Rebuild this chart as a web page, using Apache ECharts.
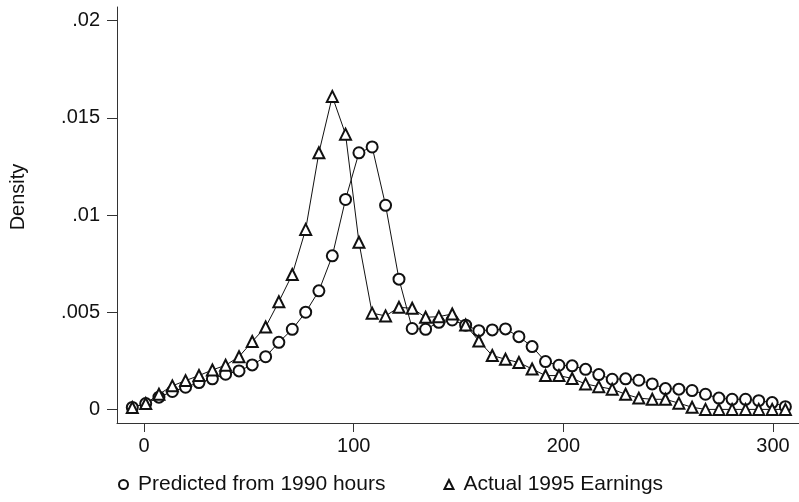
<!DOCTYPE html>
<html>
<head>
<meta charset="utf-8">
<script src="https://cdn.jsdelivr.net/npm/echarts@6/dist/echarts.min.js"></script>
<style>
  html, body { margin: 0; padding: 0; background: #fff; }
  #main { width: 799px; height: 502px; }
</style>
</head>
<body>
<div id="main"></div>
<script>
// x grid of the density estimate (earnings)
var xVals = [-5.6, 0.8, 7.1, 13.5, 19.8, 26.2, 32.6, 38.9, 45.3, 51.6,
             58.0, 64.3, 70.7, 77.1, 83.4, 89.8, 96.1, 102.5, 108.8, 115.2,
             121.6, 127.9, 134.3, 140.6, 147.0, 153.4, 159.7, 166.1, 172.4, 178.8,
             185.1, 191.5, 197.9, 204.2, 210.6, 216.9, 223.3, 229.7, 236.0, 242.4,
             248.7, 255.1, 261.4, 267.8, 274.2, 280.5, 286.9, 293.2, 299.6, 305.9];

// 预测值 (circles)
var predicted = [0.0001, 0.0003, 0.00063, 0.00092, 0.00114, 0.00138, 0.00157, 0.00181, 0.00198, 0.00229,
                 0.00271, 0.00345, 0.00412, 0.0050, 0.0061, 0.0079, 0.0108, 0.0132, 0.0135, 0.0105,
                 0.0067, 0.00416, 0.00412, 0.00448, 0.0046, 0.00433, 0.00405, 0.00409, 0.00414, 0.00374,
                 0.00323, 0.00246, 0.00227, 0.00224, 0.00206, 0.00179, 0.00155, 0.00157, 0.0015, 0.00131,
                 0.00107, 0.00104, 0.00097, 0.00078, 0.00058, 0.00052, 0.00052, 0.00045, 0.00035, 0.00014];

// 实际值 (triangles)
var actual = [0.0001, 0.0003, 0.00078, 0.00121, 0.00148, 0.00174, 0.00203, 0.00227, 0.00271, 0.00349,
              0.00424, 0.00554, 0.00694, 0.00926, 0.0132, 0.0161, 0.01416, 0.0086, 0.00495, 0.00481,
              0.00525, 0.0052, 0.00474, 0.00477, 0.00491, 0.00434, 0.00352, 0.00277, 0.00258, 0.00241,
              0.00208, 0.00174, 0.00174, 0.00159, 0.00131, 0.00117, 0.00104, 0.00078, 0.00058, 0.00052,
              0.00052, 0.00032, 0.00011, 0, 0, 0, 0, 0, 0, 0];

var xTicks = [0, 100, 200, 300];
var yTicks = [0, 0.005, 0.01, 0.015, 0.02];
var seriesNames = ['Predicted from 1990 hours', 'Actual 1995 Earnings'];

function pairs(xs, ys) {
    var out = [];
    for (var i = 0; i < xs.length; i++) {
        out.push([xs[i], ys[i]]);
    }
    return out;
}

var font = 'Liberation Sans, Arial, sans-serif';
var ink = '#111';

var chart = echarts.init(document.getElementById('main'));
chart.setOption({
    animation: false,
    backgroundColor: '#fff',
    grid: { left: 117, right: 0, top: 7, bottom: 79, outerBoundsMode: 'none' },
    xAxis: {
        type: 'value',
        min: -12.9,
        max: 312.4,
        splitLine: { show: false },
        axisLine: { onZero: false, lineStyle: { color: '#333', width: 1 } },
        axisTick: { customValues: xTicks, length: 9, lineStyle: { color: '#333' } },
        axisLabel: { customValues: xTicks, fontSize: 20, fontFamily: font, color: ink, margin: 13 }
    },
    yAxis: {
        type: 'value',
        min: -0.0007,
        max: 0.0207,
        splitLine: { show: false },
        axisLine: { show: true, onZero: false, lineStyle: { color: '#333', width: 1 } },
        axisTick: { show: true, customValues: yTicks, length: 10, lineStyle: { color: '#333' } },
        axisLabel: {
            customValues: yTicks,
            fontSize: 20, fontFamily: font, color: ink, margin: 17,
            formatter: function (v) { return v === 0 ? '0' : String(v).replace(/^0/, ''); }
        }
    },
    legend: {
        left: 113,
        top: 469,
        itemWidth: 9,
        itemHeight: 9,
        itemGap: 58,
        textStyle: { fontSize: 21, fontFamily: font, color: ink, padding: [0, 0, 0, 5] },
        data: [
            { name: seriesNames[0], icon: 'emptyCircle' },
            { name: seriesNames[1], icon: 'emptyTriangle' }
        ]
    },
    graphic: [{
        type: 'text',
        x: 18,
        y: 197,
        rotation: Math.PI / 2,
        style: {
            text: 'Density',
            fontSize: 20,
            fontFamily: font,
            fill: ink,
            textAlign: 'center',
            textVerticalAlign: 'middle'
        }
    }],
    series: [{
        name: seriesNames[0],
        type: 'line',
        data: pairs(xVals, predicted),
        symbol: 'emptyCircle',
        symbolSize: 11,
        lineStyle: { color: ink, width: 1 },
        itemStyle: { color: ink, borderWidth: 1 }
    }, {
        name: seriesNames[1],
        type: 'line',
        data: pairs(xVals, actual),
        symbol: 'emptyTriangle',
        symbolSize: 11,
        lineStyle: { color: ink, width: 1 },
        itemStyle: { color: ink, borderWidth: 1 }
    }]
});
</script>
</body>
</html>
